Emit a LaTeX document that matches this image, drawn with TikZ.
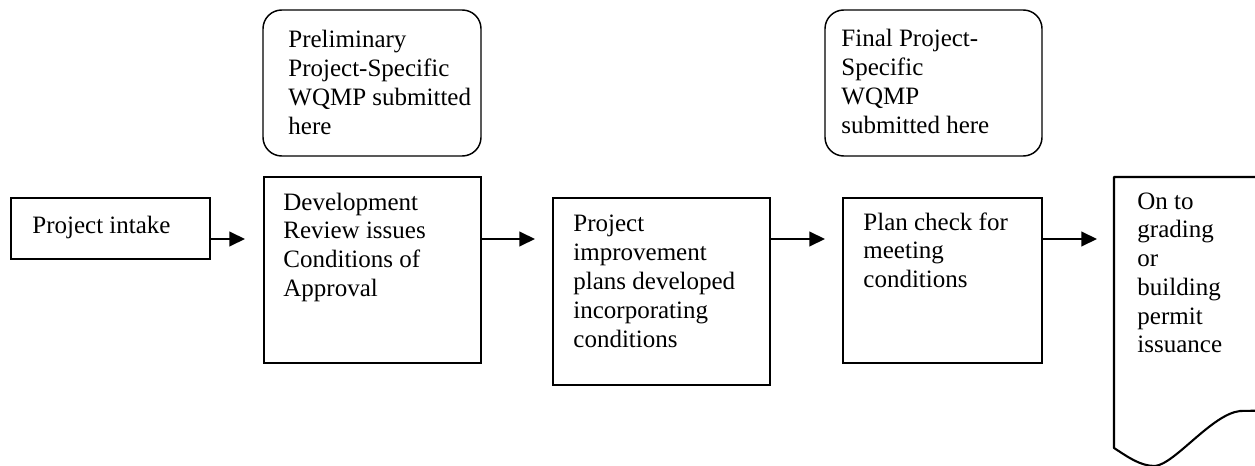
\documentclass[tikz,border=0pt]{standalone}
\usepackage{fontspec}
\setmainfont{Liberation Serif}
\usetikzlibrary{arrows.meta,fit}
\tikzset{
  rectbox/.style={draw, line width=1pt, inner sep=0pt},
  roundbox/.style={draw, line width=0.7pt, rounded corners=9pt, inner sep=0pt},
  txt/.style={anchor=base west, inner sep=0pt, font=\fontsize{12}{13.8}\selectfont},
  arr/.style={line width=1pt, -{Triangle[length=7.5pt,width=7pt]}},
  docline/.style={line width=1pt, line join=round},
}
\newcommand\mylines[1]{\parbox[t]{8cm}{\raggedright #1}}
\begin{document}
\begin{tikzpicture}[x=0.48pt,y=-0.48pt]
\useasboundingbox (0,0) rectangle (1255,466);
\clip (0,0) rectangle (1255,466);
% boxes
\node[rectbox, fit={(11,198)(210,259)}] (intake) {};
\node[roundbox, fit={(263,10)(481,156)}] (prelim) {};
\node[rectbox, fit={(264,177)(481,363)}] (dev) {};
\node[rectbox, fit={(553,198)(770,385)}] (impr) {};
\node[roundbox, fit={(825,10)(1042,156)}] (final) {};
\node[rectbox, fit={(843,198)(1042,363)}] (plan) {};
% document shape
\draw[docline] (1290,177) -- (1114,177) -- (1114,448)
  .. controls (1128,457) and (1140,466) .. (1155,466)
  .. controls (1175,464) and (1212,414) .. (1240,411) -- (1290,410);
% texts
\node[txt] (intaket) at (32,233) {Project intake};
\node[txt] (prelimt) at (288,48) {\mylines{Preliminary\\Project-Specific\\WQMP submitted\\here}};
\node[txt] (devt) at (283,210) {\mylines{Development\\Review issues\\Conditions of\\Approval}};
\node[txt] (imprt) at (573,232) {\mylines{Project\\improvement\\plans developed\\incorporating\\conditions}};
\node[txt] (finalt) at (841,47) {\mylines{Final Project-\\Specific\\WQMP\\submitted here}};
\node[txt] (plant) at (863,230) {\mylines{Plan check for\\meeting\\conditions}};
\node[txt] (doct) at (1137,209) {\mylines{On to\\grading\\or\\building\\permit\\issuance}};
% arrows
\coordinate (t1) at (245,239);
\coordinate (t2) at (535,239);
\coordinate (t3) at (825,239);
\coordinate (t4) at (1097,239);
\draw[arr] (intake.east |- t1) -- (t1);
\draw[arr] (dev.east |- t2) -- (t2);
\draw[arr] (impr.east |- t3) -- (t3);
\draw[arr] (plan.east |- t4) -- (t4);
\end{tikzpicture}
\end{document}
